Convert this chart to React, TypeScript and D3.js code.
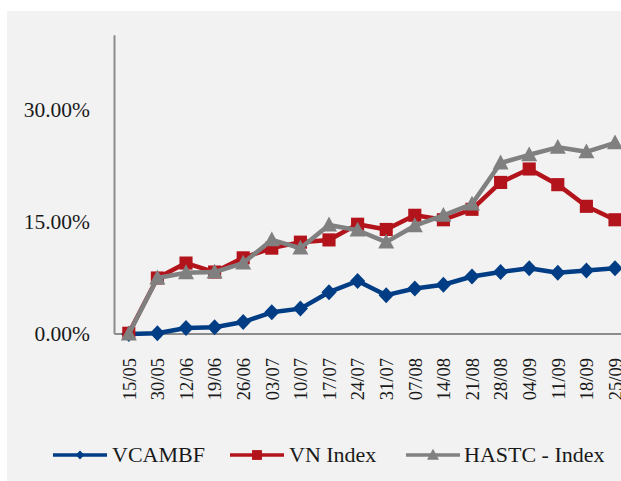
import React from "react";
import * as d3 from "d3";

const categories = ["15/05","30/05","12/06","19/06","26/06","03/07","10/07","17/07","24/07","31/07","07/08","14/08","21/08","28/08","04/09","11/09","18/09","25/09"];
const vcambf = [0, 0.1, 0.8, 0.9, 1.6, 2.9, 3.4, 5.6, 7.1, 5.2, 6.1, 6.6, 7.7, 8.3, 8.8, 8.2, 8.5, 8.8];
const vnIndex = [0.1, 7.5, 9.5, 8.3, 10.2, 11.5, 12.3, 12.6, 14.7, 14.0, 15.9, 15.3, 16.7, 20.3, 22.1, 20.0, 17.1, 15.3];
const hastc = [0, 7.5, 8.2, 8.3, 9.5, 12.6, 11.5, 14.6, 13.9, 12.3, 14.5, 15.9, 17.4, 22.9, 24.0, 25.0, 24.4, 25.6];
const yTicks = [0, 15, 30];

const W = 621, H = 481;
const FONT = "'Liberation Serif', 'DejaVu Serif', serif";

export default function App() {
  const x = d3.scaleBand<string>().domain(categories).range([114.5, 114.5 + categories.length * 28.6]);
  const y = d3.scaleLinear().domain([0, 40]).range([334, 334 - (40 / 15) * 112]);
  const cx = (c: string) => (x(c) as number) + x.bandwidth() / 2;
  const line = d3.line<number>().x((_, i) => cx(categories[i])).y((v) => y(v));

  const series = [
    { name: "VCAMBF", data: vcambf, color: "#003d85", marker: "diamond" },
    { name: "VN Index", data: vnIndex, color: "#b3141c", marker: "square" },
    { name: "HASTC - Index", data: hastc, color: "#808080", marker: "triangle" },
  ];

  const marker = (type: string, px: number, py: number, color: string, s: number, key?: any) => {
    if (type === "diamond") {
      return <path key={key} d={`M${px},${py - s}L${px + s * 0.95},${py}L${px},${py + s}L${px - s * 0.95},${py}Z`} fill={color} />;
    }
    if (type === "square") {
      return <rect key={key} x={px - s * 0.82} y={py - s * 0.82} width={s * 1.64} height={s * 1.64} fill={color} />;
    }
    return <path key={key} d={`M${px},${py - s * 1.05}L${px + s},${py + s * 0.8}L${px - s},${py + s * 0.8}Z`} fill={color} />;
  };

  const legendItems = [
    { x0: 53, tx: 112, s: 4.5 },
    { x0: 230, tx: 289, s: 6 },
    { x0: 406, tx: 464, s: 6 },
  ];

  return (
    <svg width={W} height={H} style={{ position: "absolute", left: 0, top: 0 }} fontFamily={FONT}>
      <rect x={0} y={0} width={W} height={H} fill="#ffffff" />
      <rect x={7} y={11} width={W - 7} height={H - 11} fill="#f2f2f2" />
      {/* axes */}
      <line x1={114.5} y1={y(40)} x2={114.5} y2={y(0)} stroke="#8c8c8c" strokeWidth={2} />
      <line x1={114.5} y1={y(0)} x2={W} y2={y(0)} stroke="#8c8c8c" strokeWidth={2} />
      {yTicks.map((t) => (
        <text key={t} x={90} y={y(t)} dy="0.34em" textAnchor="end" fontSize={21.5} fill="#1a1a1a">
          {t.toFixed(2)}%
        </text>
      ))}
      {categories.map((c) => (
        <text key={c} transform={`translate(${cx(c) + 0.5},358) rotate(-90)`} dy="0.34em" textAnchor="end" fontSize={18.5} fill="#1a1a1a">
          {c}
        </text>
      ))}
      {/* series */}
      {series.map((s) => (
        <g key={s.name}>
          <path d={line(s.data) as string} fill="none" stroke={s.color} strokeWidth={4.5} strokeLinejoin="round" />
          {s.data.map((v, i) => marker(s.marker, cx(categories[i]), y(v), s.color, 8, i))}
        </g>
      ))}
      {/* legend */}
      {series.map((s, i) => (
        <g key={s.name}>
          <line x1={legendItems[i].x0} y1={455} x2={legendItems[i].x0 + 54} y2={455} stroke={s.color} strokeWidth={3.5} />
          {marker(s.marker, legendItems[i].x0 + 27, 455, s.color, legendItems[i].s)}
          <text x={legendItems[i].tx} y={455} dy="0.34em" fontSize={22} fill="#1a1a1a">
            {s.name}
          </text>
        </g>
      ))}
    </svg>
  );
}
